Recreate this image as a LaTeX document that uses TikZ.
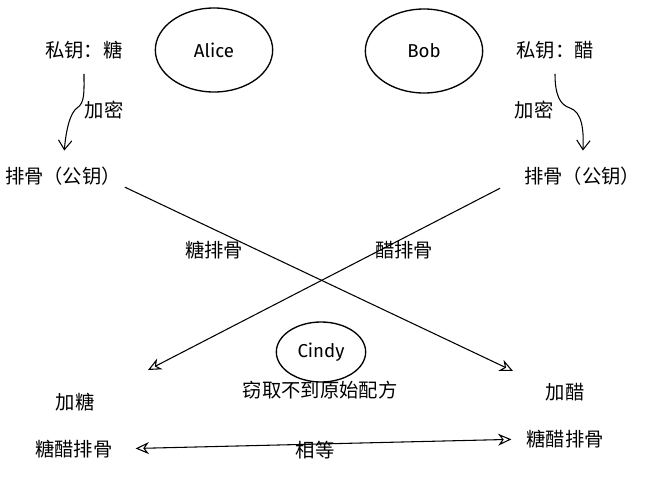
\documentclass[tikz,border=0pt]{standalone}
\usepackage{fontspec}
\newfontfamily\cjk{Noto Sans CJK SC}
\newfontfamily\namefont{Fira Sans}
\usetikzlibrary{arrows.meta,shapes.geometric}

\begin{document}
\begin{tikzpicture}[x=0.75pt,y=0.75pt,yscale=-1,xscale=1,
  txt/.style={font=\cjk\fontsize{14.5}{17}\selectfont, inner sep=0pt},
  person/.style={draw, ellipse, line width=1pt, font=\namefont\fontsize{14}{16}\selectfont},
  barb/.style={-{Straight Barb[length=7pt,width=10pt]}, line width=0.8pt},
  opentip/.style={-{Stealth[open,length=10pt,width=9pt]}, line width=0.8pt},
  bothtips/.style={{Stealth[open,length=10pt,width=9pt]}-{Stealth[open,length=10pt,width=9pt]}, line width=0.8pt}]
%set diagram left start at 0, and has height of 493
\fill[white] (0,0) rectangle (646,493);
\useasboundingbox (0,0) rectangle (646,493);

%Shape: Ellipse [id:alice]
\node[person, minimum width=88pt, minimum height=63pt] (alice) at (214,50) {Alice};
%Shape: Ellipse [id:bob]
\node[person, minimum width=88pt, minimum height=63pt] (bob) at (424,51) {Bob};
%Shape: Ellipse [id:cindy]
\node[person, minimum width=67pt, minimum height=45pt] (cindy) at (321,352) {Cindy};

% Text Node
\node[txt] (skA) at (84,50) {私钥：糖};
% Text Node
\node[txt] (skB) at (555,50) {私钥：醋};
% Text Node
\node[txt] (encA) at (104,110) {加密};
% Text Node
\node[txt] (encB) at (534,110) {加密};
% Text Node
\node[txt] (pkA) at (63,176) {排骨（公钥）};
% Text Node
\node[txt] (pkB) at (582,176) {排骨（公钥）};
% Text Node
\node[txt] (mA) at (214,250) {糖排骨};
% Text Node
\node[txt] (mB) at (404,250) {醋排骨};
% Text Node
\node[txt] (steal) at (320,390) {窃取不到原始配方};
% Text Node
\node[txt] (addA) at (75,402) {加糖};
% Text Node
\node[txt] (addB) at (565,392) {加醋};
% Text Node
\node[txt] (resA) at (74,449) {糖醋排骨};
% Text Node
\node[txt] (resB) at (565,439) {糖醋排骨};
% Text Node
\node[txt] (eq) at (315,450) {相等};

%Curve Lines [id:encA]
\draw[barb, shorten <=11pt, shorten >=12pt] (skA.south) .. controls (84,92) and (85,103) .. (77,108) .. controls (70,113) and (66,130) .. (pkA.north);
%Curve Lines [id:encB]
\draw[barb, shorten <=11pt, shorten >=12pt] (skB.south) .. controls (555,95) and (560,105) .. (570,108) .. controls (582,112) and (584,130) .. (pkB.north);

%Straight Lines [id:sendA]
\coordinate (tipB) at (513,371);
\draw[opentip, shorten <=3pt] (pkA.south east) -- (tipB);
%Straight Lines [id:sendB]
\coordinate (tipA) at (148,370);
\draw[opentip, shorten <=20pt] (pkB.west) -- (tipA);
%Straight Lines [id:equal]
\draw[bothtips, shorten <=17pt, shorten >=11pt] (resA.east) -- (resB.west);

\end{tikzpicture}
\end{document}
